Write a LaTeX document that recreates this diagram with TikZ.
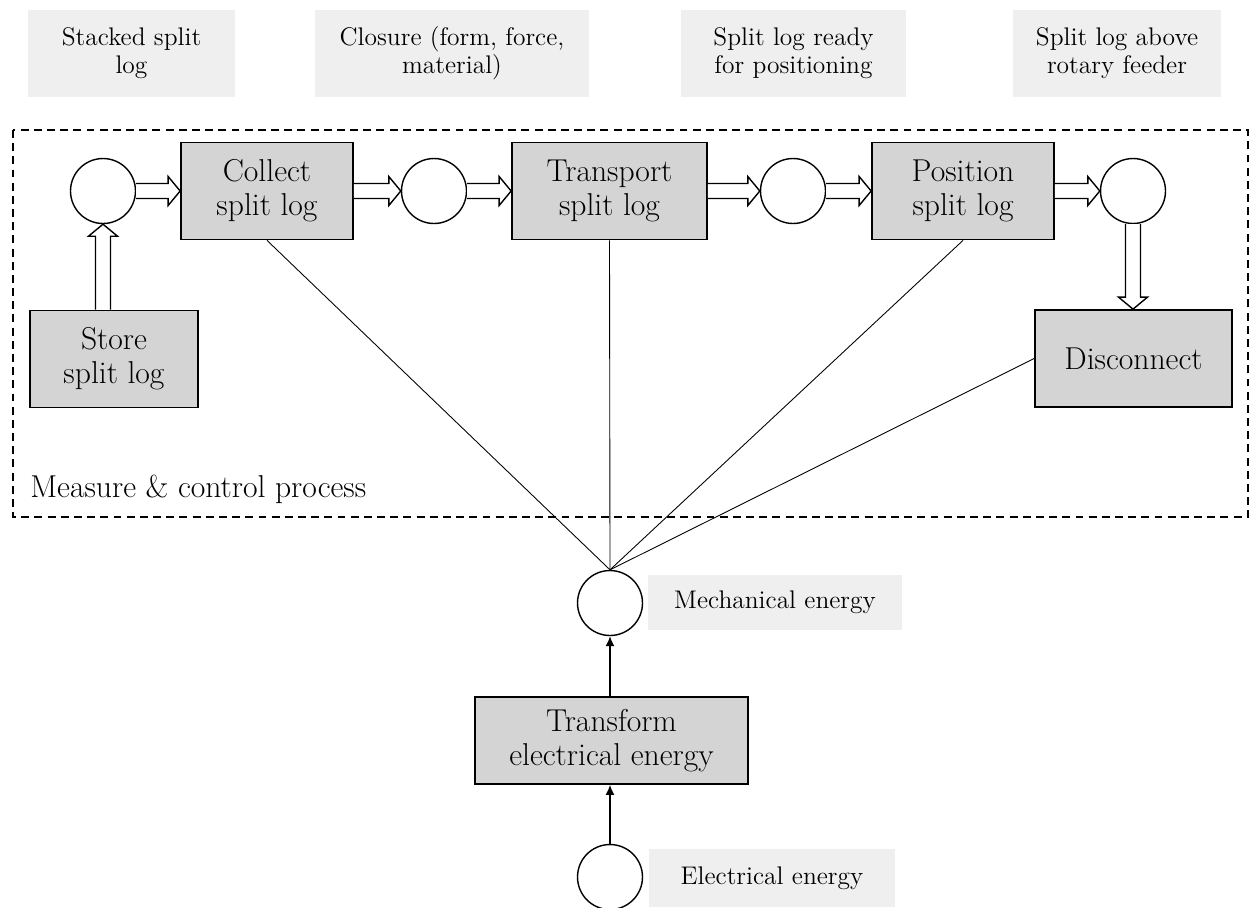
\documentclass[tikz,border=0pt]{standalone}
\usepackage{tikz}
\usepackage{xcolor}
\usetikzlibrary{arrows.meta,calc}

\definecolor{procgray}{HTML}{D4D4D4}
\definecolor{taggray}{HTML}{EFEFEF}

\begin{document}
\begin{tikzpicture}[x=0.02cm, y=-0.02cm,
  proc/.style={draw, line width=1pt, fill=procgray, minimum height=1.94cm, align=center, inner sep=2pt, font=\fontsize{18}{19.5}\selectfont},
  state/.style={draw, circle, line width=0.8pt, fill=white, minimum size=1.3cm, inner sep=0pt},
  tag/.style={fill=taggray, align=center, inner sep=0pt, font=\fontsize{14.5}{16}\selectfont},
  flow/.style={line width=0.8pt, fill=white, to path={
    ($(\tikztostart)!0.15cm!90:(\tikztotarget)$)
    -- ($(\tikztotarget)!0.24cm!(\tikztostart)!0.15cm!-90:(\tikztostart)$)
    -- ($(\tikztotarget)!0.24cm!(\tikztostart)!0.29cm!-90:(\tikztostart)$)
    -- (\tikztotarget)
    -- ($(\tikztotarget)!0.24cm!(\tikztostart)!0.29cm!90:(\tikztostart)$)
    -- ($(\tikztotarget)!0.24cm!(\tikztostart)!0.15cm!90:(\tikztostart)$)
    -- ($(\tikztostart)!0.15cm!-90:(\tikztotarget)$)}},
  link/.style={line width=0.5pt},
  feed/.style={line width=0.8pt, -{Latex[length=0.2cm, width=0.18cm]}}]

\useasboundingbox (0, 0) rectangle (1250, 907);

\draw[dash pattern=on 4.5pt off 3pt, line width=0.8pt] (13, 130) rectangle (1248, 517);
\node[anchor=base west, inner sep=0pt, font=\fontsize{18}{19.5}\selectfont] (mcp) at (30, 497) {Measure \& control process};

\node[tag, minimum width=4.14cm, minimum height=1.74cm] (tag a) at (131.5, 53.5) {Stacked split\\log};
\node[tag, minimum width=5.5cm, minimum height=1.74cm] (tag b) at (452, 53.5) {Closure (form, force,\\material)};
\node[tag, minimum width=4.5cm, minimum height=1.74cm] (tag c) at (793.5, 53.5) {Split log ready\\for positioning};
\node[tag, minimum width=4.16cm, minimum height=1.74cm] (tag d) at (1117, 53.5) {Split log above\\rotary feeder};

\node[state] (state a) at (103, 191) {};
\node[proc, minimum width=3.44cm] (collect) at (267, 191) {Collect\\split log};
\node[state] (state b) at (434, 191) {};
\node[proc, minimum width=3.9cm] (transport) at (609.5, 191) {Transport\\split log};
\node[state] (state c) at (793, 191) {};
\node[proc, minimum width=3.64cm] (position) at (963, 191) {Position\\split log};
\node[state] (state d) at (1133, 191) {};

\node[proc, minimum width=3.36cm] (store) at (114, 359) {Store\\split log};
\node[proc, minimum width=3.94cm] (disconnect) at (1133.5, 358.5) {Disconnect};

\node[state] (mech) at (610, 603) {};
\node[tag, minimum width=5.08cm, minimum height=1.1cm] (mech tag) at (775, 602.5) {Mechanical energy};
\node[proc, minimum width=5.46cm, minimum height=1.74cm] (transform) at (611.5, 740.5) {Transform\\electrical energy};
\node[state] (elec) at (610, 877) {};
\node[tag, minimum width=4.92cm, minimum height=1.16cm] (elec tag) at (772, 878) {Electrical energy};

\draw[flow] (state a.east) to (collect.west);
\draw[flow] (collect.east) to (state b.west);
\draw[flow] (state b.east) to (transport.west);
\draw[flow] (transport.east) to (state c.west);
\draw[flow] (state c.east) to (position.west);
\draw[flow] (position.east) to (state d.west);
\draw[flow] (state d.south) to (disconnect.north -| state d);
\draw[flow] (store.north -| state a) to (state a.south);

\draw[link] (collect.south) -- (mech.north);
\draw[link] (transport.south) -- (mech.north);
\draw[link] (position.south) -- (mech.north);
\draw[link] (disconnect.west) -- (mech.north);

\draw[feed] (transform.north -| mech) -- (mech);
\draw[feed] (elec) -- (transform.south -| elec);
\end{tikzpicture}
\end{document}
